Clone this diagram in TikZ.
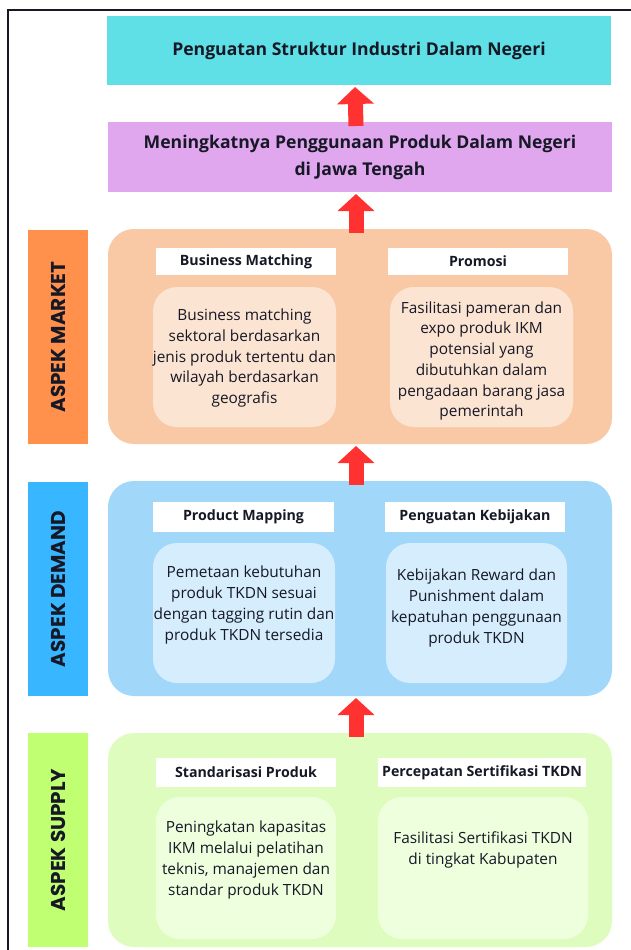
\documentclass[tikz,border=0pt]{standalone}
\usepackage{fontspec}
\setmainfont{Open Sans}
\newfontfamily\lblfont{Poppins}
\usetikzlibrary{arrows.meta}
\definecolor{ink}{RGB}{22,24,38}
\definecolor{cyanbox}{RGB}{94,224,230}
\definecolor{purplebox}{RGB}{224,166,238}
\definecolor{orangelbl}{RGB}{255,145,77}
\definecolor{marketbg}{RGB}{249,201,166}
\definecolor{marketin}{RGB}{252,228,210}
\definecolor{bluelbl}{RGB}{56,182,255}
\definecolor{demandbg}{RGB}{161,216,250}
\definecolor{demandin}{RGB}{213,237,252}
\definecolor{greenlbl}{RGB}{193,255,114}
\definecolor{supplybg}{RGB}{222,252,190}
\definecolor{supplyin}{RGB}{238,255,222}
\definecolor{arrowred}{RGB}{255,49,49}
\begin{document}
\begin{tikzpicture}[x=1pt,y=-1pt,
  box/.style={draw=none, rectangle, inner sep=0pt, outer sep=0pt},
  topbox/.style={box, minimum width=504pt, text=ink, font=\fontsize{17.6}{27}\selectfont\bfseries, align=center},
  mainbox/.style={box, rounded corners=26pt, minimum width=504pt},
  lblbox/.style={box, minimum width=60pt},
  lbltext/.style={rotate=90, text=ink, font=\lblfont\fontsize{20}{21}\selectfont\bfseries, inner sep=0pt},
  subhead/.style={box, fill=white, text=ink, font=\fontsize{14.2}{16}\selectfont\bfseries},
  innerbox/.style={box, rounded corners=24pt},
  bodytext/.style={text=ink, font=\fontsize{15.4}{20.7}\selectfont, align=center, inner sep=0pt},
  uparrow/.style={draw=arrowred, line width=15pt, -{Triangle[width=36pt,length=17pt]}, shorten >=2pt}
]
\useasboundingbox (0,0) rectangle (631,950);

% frame
\draw[line width=2pt, ink] (8,951) -- (8,10) -- (632,10);

% top boxes
\node[topbox, fill=cyanbox, minimum height=69pt] (goal) at (359,50.5) {Penguatan Struktur Industri Dalam Negeri};
\node[topbox, fill=purplebox, minimum height=70pt] (outcome) at (360,157) {Meningkatnya Penggunaan Produk Dalam Negeri\\di Jawa Tengah};

% MARKET
\node[mainbox, fill=marketbg, minimum height=215pt] (market) at (360,336.5) {};
\node[lblbox, fill=orangelbl, minimum height=214pt] (marketlbl) at (58,337) {};
\node[lbltext] (marketlbltxt) at (58,337) {ASPEK MARKET};
\node[subhead, minimum width=180pt, minimum height=27pt] (bmhead) at (246,261.5) {Business Matching};
\node[subhead, minimum width=180pt, minimum height=27pt] (prhead) at (478,261.5) {Promosi};
\node[innerbox, fill=marketin, minimum width=183pt, minimum height=140pt] (bmbox) at (244.5,357) {};
\node[innerbox, fill=marketin, minimum width=183pt, minimum height=140pt] (prbox) at (481.5,357) {};
\node[bodytext] (bmtext) at (244.5,358) {Business matching\\sektoral berdasarkan\\jenis produk tertentu dan\\wilayah berdasarkan\\geografis};
\node[bodytext] (prtext) at (481.5,361) {Fasilitasi pameran dan\\expo produk IKM\\potensial yang\\dibutuhkan dalam\\pengadaan barang jasa\\pemerintah};

% DEMAND
\node[mainbox, fill=demandbg, minimum height=215pt] (demand) at (360,588.5) {};
\node[lblbox, fill=bluelbl, minimum height=214pt] (demandlbl) at (58,589) {};
\node[lbltext] (demandlbltxt) at (58,589) {ASPEK DEMAND};
\node[subhead, minimum width=181pt, minimum height=30pt] (pmhead) at (243.5,517) {Product Mapping};
\node[subhead, minimum width=180pt, minimum height=30pt] (pkhead) at (475,517) {Penguatan Kebijakan};
\node[innerbox, fill=demandin, minimum width=182pt, minimum height=140pt] (pmbox) at (244,613) {};
\node[innerbox, fill=demandin, minimum width=181pt, minimum height=140pt] (pkbox) at (476.5,613) {};
\node[bodytext] (pmtext) at (244,605) {Pemetaan kebutuhan\\produk TKDN sesuai\\dengan tagging rutin dan\\produk TKDN tersedia};
\node[bodytext] (pktext) at (476.5,608) {Kebijakan Reward dan\\Punishment dalam\\kepatuhan penggunaan\\produk TKDN};

% SUPPLY
\node[mainbox, fill=supplybg, minimum height=214pt] (supply) at (360,840) {};
\node[lblbox, fill=greenlbl, minimum height=214pt] (supplylbl) at (58,840) {};
\node[lbltext] (supplylbltxt) at (58,840) {ASPEK SUPPLY};
\node[subhead, minimum width=180pt, minimum height=29pt] (sphead) at (246,772.5) {Standarisasi Produk};
\node[subhead, minimum width=208pt, minimum height=29pt] (pshead) at (482,772.5) {Percepatan Sertifikasi TKDN};
\node[innerbox, fill=supplyin, minimum width=180pt, minimum height=142pt] (spbox) at (246,868) {};
\node[innerbox, fill=supplyin, minimum width=210pt, minimum height=142pt] (psbox) at (483,868) {};
\node[bodytext] (sptext) at (246,860) {Peningkatan kapasitas\\IKM melalui pelatihan\\teknis, manajemen dan\\standar produk TKDN};
\node[bodytext] (pstext) at (483,850) {Fasilitasi Sertifikasi TKDN\\di tingkat Kabupaten};

% arrows
\draw[uparrow] ([xshift=-4pt,yshift=-4pt]outcome.north) -- ([xshift=-4pt]goal.south);
\draw[uparrow] ([xshift=-4pt,yshift=-4pt]market.north) -- ([xshift=-4pt]outcome.south);
\draw[uparrow] ([xshift=-4pt,yshift=-4pt]demand.north) -- ([xshift=-4pt]market.south);
\draw[uparrow] ([xshift=-4pt,yshift=-4pt]supply.north) -- ([xshift=-4pt]demand.south);
\end{tikzpicture}
\end{document}
